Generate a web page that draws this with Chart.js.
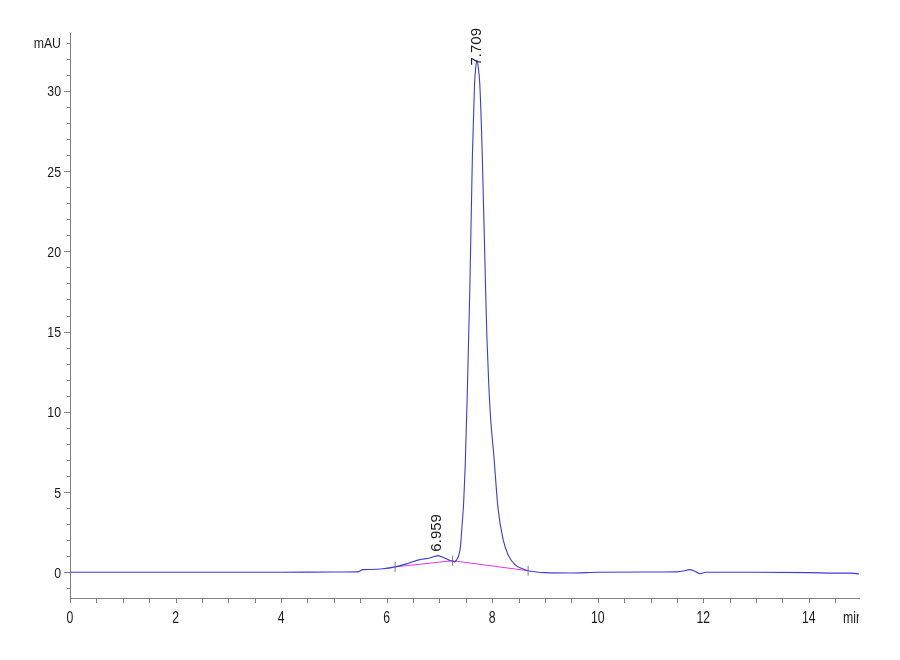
<!DOCTYPE html>
<html>
<head>
<meta charset="utf-8">
<script src="https://cdn.jsdelivr.net/npm/chart.js@4"></script>
<style>
  html, body { margin: 0; padding: 0; background: #fff; }
  #wrap { width: 900px; height: 660px; }
</style>
</head>
<body>
<div id="wrap"><canvas id="chrom" width="900" height="660"></canvas></div>
<script>
// ---- chromatogram trace (min, mAU) ----
const timeMin = [0, 1, 2, 3, 4, 5, 5.45, 5.55, 5.7, 5.93, 6.16, 6.4, 6.63, 6.8, 6.9, 6.97,
  7.05, 7.13, 7.2, 7.25, 7.29, 7.33, 7.36, 7.40, 7.43, 7.46, 7.49, 7.525, 7.575, 7.625,
  7.665, 7.69, 7.71, 7.735, 7.765, 7.81, 7.875, 7.90, 7.935, 7.97, 8.03, 8.11, 8.21, 8.30,
  8.43, 8.59, 8.68, 8.8, 9.0, 9.5, 10, 11, 11.5, 11.65, 11.73, 11.82, 11.93, 12.05, 13, 14,
  14.5, 14.8, 14.95];
const signalMAU = [0, 0, 0, 0, 0, 0.02, 0.03, 0.17, 0.18, 0.22, 0.34, 0.55, 0.79, 0.88, 0.98, 1.04,
  0.95, 0.84, 0.73, 0.68, 0.65, 0.8, 1.0, 1.65, 3.0, 4.4, 6.8, 10.8, 17.5, 26.0,
  30.4, 31.5, 31.9, 31.5, 30.4, 26.2, 17.6, 14.6, 11.7, 9.6, 7.3, 4.0, 2.0, 1.1,
  0.48, 0.2, 0.1, 0.04, -0.02, -0.04, 0.0, 0.02, 0.03, 0.1, 0.17, 0.1, -0.08, 0.0, 0.0, -0.02,
  -0.05, -0.05, -0.1];

// integration baseline + start/valley/end marks
const baseTime = [6.16, 7.25, 8.68];
const baseMAU = [0.34, 0.72, 0.1];

// peak labels
const peakTimes = [6.959, 7.709];
const peakHeights = [1.04, 31.9];
const peakNames = ["6.959", "7.709"];

// axes
const xMin = 0, xMax = 14.95, xStep = 0.5;
const xLabelValues = [0, 2, 4, 6, 8, 10, 12, 14];
const yMin = -1.6, yMax = 33.6;
const yLabelValues = [0, 5, 10, 15, 20, 25, 30];
const yUnitValue = 33;
const xUnit = "min", yUnit = "mAU";

const labelFamily = "'Liberation Sans', Arial, sans-serif";
const axisGray = "#808080";
const textColor = "#1a1a1a";

function pts(xs, ys) {
  return xs.map((x, i) => ({ x: x, y: ys[i] }));
}

// narrow text like the instrument export (Arial squeezed horizontally)
function squeezedText(ctx, txt, x, y, size, sx, align) {
  ctx.save();
  ctx.font = size + "px " + labelFamily;
  ctx.textBaseline = "alphabetic";
  const w = ctx.measureText(txt).width * sx;
  let left = x;
  if (align === "right") left = x - w;
  if (align === "center") left = x - w / 2;
  ctx.translate(left, y);
  ctx.scale(sx, 1);
  ctx.textAlign = "left";
  ctx.fillText(txt, 0, 0);
  ctx.restore();
}

// ticks and tick labels drawn by hand so major/minor lengths can differ
const axisDecor = {
  id: "axisDecor",
  afterDraw(chart) {
    const { ctx, chartArea, scales } = chart;
    ctx.save();
    ctx.strokeStyle = axisGray;
    ctx.lineWidth = 1;
    ctx.beginPath();
    scales.y.ticks.forEach(t => {
      const py = Math.round(scales.y.getPixelForValue(t.value)) + 0.5;
      const len = yLabelValues.includes(t.value) ? 6 : 3;
      ctx.moveTo(chartArea.left - len, py);
      ctx.lineTo(chartArea.left, py);
    });
    scales.x.ticks.forEach(t => {
      const px = Math.round(scales.x.getPixelForValue(t.value)) + 0.5;
      ctx.moveTo(px, chartArea.bottom);
      ctx.lineTo(px, chartArea.bottom + 5);
    });
    ctx.stroke();

    ctx.fillStyle = textColor;
    yLabelValues.forEach(v => {
      const py = scales.y.getPixelForValue(v);
      squeezedText(ctx, String(v), chartArea.left - 9, py + 5.5, 15, 0.82, "right");
    });
    squeezedText(ctx, yUnit, chartArea.left - 9, scales.y.getPixelForValue(yUnitValue) + 5.5, 15, 0.82, "right");

    xLabelValues.forEach(v => {
      const px = scales.x.getPixelForValue(v);
      squeezedText(ctx, String(v), px, chartArea.bottom + 24.5, 17, 0.72, "center");
    });

    // axis unit, clipped at the axis end like the original export
    ctx.beginPath();
    ctx.rect(0, 0, chartArea.right, chart.height);
    ctx.clip();
    squeezedText(ctx, xUnit, chartArea.right - 16, chartArea.bottom + 24.5, 17, 0.72, "left");
    ctx.restore();
  }
};

const peakLabels = {
  id: "peakLabels",
  afterDatasetsDraw(chart) {
    const { ctx, chartArea, scales } = chart;
    ctx.save();
    ctx.fillStyle = textColor;
    ctx.font = "15px " + labelFamily;
    ctx.textAlign = "left";
    ctx.textBaseline = "middle";
    peakTimes.forEach((t, i) => {
      const w = ctx.measureText(peakNames[i]).width;
      const px = scales.x.getPixelForValue(t);
      const py = scales.y.getPixelForValue(peakHeights[i]);
      const bottom = Math.max(py - 4, chartArea.top - 5 + w);
      ctx.save();
      ctx.translate(px, bottom);
      ctx.rotate(-Math.PI / 2);
      ctx.fillText(peakNames[i], 0, 0);
      ctx.restore();
    });
    ctx.restore();
  }
};

new Chart(document.getElementById("chrom"), {
  type: "line",
  data: {
    datasets: [
      {
        data: pts(baseTime, baseMAU),
        borderColor: "#e03ce0",
        borderWidth: 1,
        pointRadius: 0,
        tension: 0,
        order: 2
      },
      {
        data: pts(timeMin, signalMAU),
        borderColor: "#3c3cd8",
        borderWidth: 1.1,
        pointRadius: 0,
        cubicInterpolationMode: "monotone",
        order: 1
      },
      {
        data: pts(baseTime, baseMAU),
        showLine: false,
        pointStyle: "line",
        rotation: 90,
        pointRadius: 5,
        pointBorderColor: "#777",
        pointBorderWidth: 1,
        order: 0
      }
    ]
  },
  options: {
    responsive: false,
    animation: false,
    layout: { padding: { top: 33, right: 41, left: 0, bottom: 0 } },
    plugins: { legend: { display: false }, tooltip: { enabled: false } },
    scales: {
      x: {
        type: "linear",
        min: xMin,
        max: xMax,
        afterFit: s => { s.height = 62; },
        border: { color: axisGray, width: 1 },
        grid: { display: false, drawTicks: false },
        ticks: { display: false, stepSize: xStep, includeBounds: false, autoSkip: false }
      },
      y: {
        min: yMin,
        max: yMax,
        afterFit: s => { s.width = 70; },
        afterBuildTicks: s => {
          const ticks = [];
          for (let v = Math.ceil(yMin); v <= yUnitValue; v++) ticks.push({ value: v });
          s.ticks = ticks;
        },
        border: { color: axisGray, width: 1 },
        grid: { display: false, drawTicks: false },
        ticks: { display: false, autoSkip: false }
      }
    }
  },
  plugins: [axisDecor, peakLabels]
});
</script>
</body>
</html>
